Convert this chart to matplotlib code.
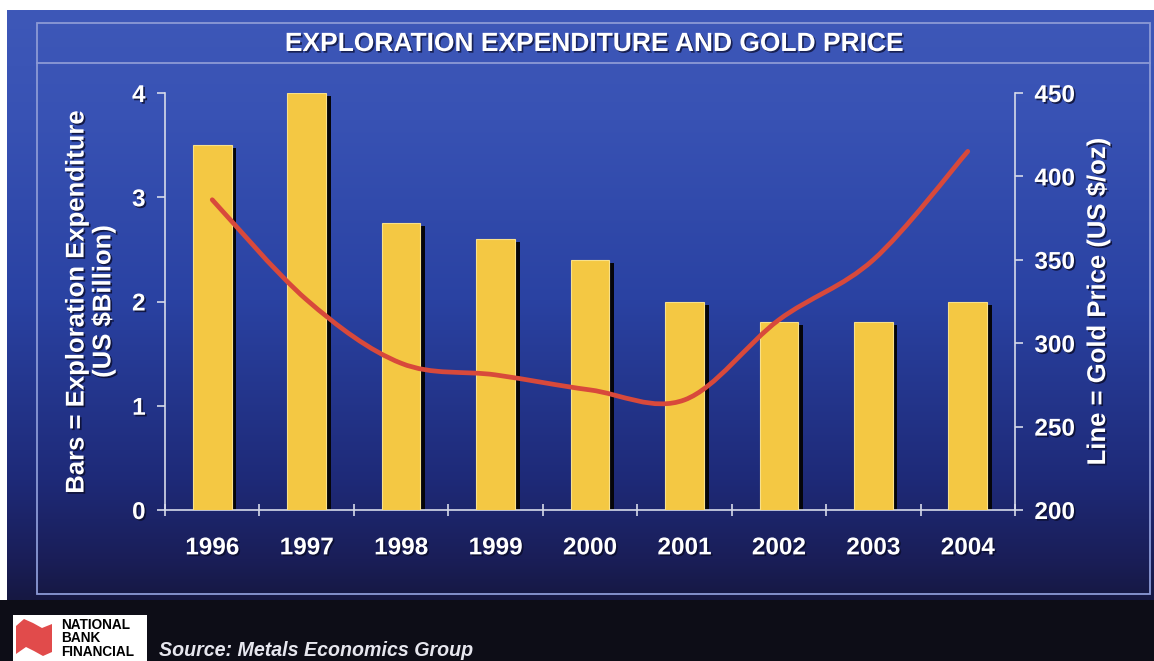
import numpy as np
import matplotlib
matplotlib.use("Agg")
import matplotlib.pyplot as plt
from matplotlib.patches import Rectangle, Polygon, PathPatch
from matplotlib.path import Path
import matplotlib.patheffects as pe

# ---------------- data ----------------
years = ["1996", "1997", "1998", "1999", "2000", "2001", "2002", "2003", "2004"]
expenditure = [3.5, 4.0, 2.75, 2.6, 2.4, 2.0, 1.8, 1.8, 2.0]          # US $Billion (bars)
gold_price = [386, 326, 288, 281, 272, 266, 314, 350, 415]            # US $/oz (line)
left_ticks = [0, 1, 2, 3, 4]
right_ticks = [200, 250, 300, 350, 400, 450]

title = "EXPLORATION EXPENDITURE AND GOLD PRICE"
left_label = "Bars = Exploration Expenditure\n(US $Billion)"
right_label = "Line = Gold Price (US $/oz)"
source = "Source: Metals Economics Group"

W, H = 1154, 661
plt.rcParams['font.family'] = ['Liberation Sans', 'DejaVu Sans']

fig = plt.figure(figsize=(W / 100, H / 100), dpi=100)
fig.patch.set_facecolor("white")

# ---------------- background (pixel coords) ----------------
bg = fig.add_axes([0, 0, 1, 1], zorder=0)
bg.set_xlim(0, W)
bg.set_ylim(H, 0)
bg.axis("off")

stops_y = np.array([10, 120, 300, 480, 560, 600])
stops_c = np.array([
    [62, 88, 184],
    [56, 82, 180],
    [42, 66, 162],
    [30, 42, 120],
    [26, 30, 88],
    [22, 24, 66],
]) / 255.0
ys = np.linspace(10, 600, 400)
grad = np.stack([np.interp(ys, stops_y, stops_c[:, k]) for k in range(3)], axis=-1)
grad = np.repeat(grad[:, None, :], 2, axis=1)
bg.imshow(grad, extent=[7, W, 600, 10], aspect="auto", interpolation="bilinear", zorder=0)

bg.add_patch(Rectangle((0, 600), W, H - 600, facecolor="#0d0d17", edgecolor="none", zorder=1))
bg.add_patch(Rectangle((37, 23), 1113, 571, facecolor="none", edgecolor="#8c9ad6", lw=1.3, zorder=2))
bg.plot([37, 1150], [63, 63], color="#8c9ad6", lw=1.3, zorder=2)

bg.text(594, 44, title, color="white", fontsize=19, fontweight="bold",
        ha="center", va="center", zorder=3,
        path_effects=[pe.withSimplePatchShadow(offset=(1.2, -1.2), shadow_rgbFace="#10143a", alpha=0.8)])

# logo
bg.add_patch(Rectangle((13, 615), 134, 50, facecolor="white", edgecolor="none", zorder=3))
flag = Polygon([(16, 626), (24, 619), (33, 623), (42, 628), (52, 624),
                (52, 652), (43, 656), (34, 651), (26, 647), (16, 654)],
               closed=True, facecolor="#e14b4b", edgecolor="none", zorder=4)
bg.add_patch(flag)
bg.text(61, 618, "NATIONAL\nBANK\nFINANCIAL", color="black", fontsize=9.8, fontweight="bold",
        ha="left", va="top", linespacing=0.95, zorder=4)

bg.text(159, 651, source, color="#e6e6ee", fontsize=14.1, fontweight="bold", style="italic",
        ha="left", va="center", zorder=3)

# ---------------- main chart ----------------
shadow = [pe.withSimplePatchShadow(offset=(1.2, -1.2), shadow_rgbFace="#0a0c2a", alpha=0.8)]
spine_c = "#d6daea"
fs = 17.5

ax = fig.add_axes([165 / W, 1 - 510 / H, 850 / W, 417 / H], zorder=2)
ax.patch.set_alpha(0)
x = np.arange(len(years))
bw = 0.41
ax.bar(x + 0.05, [v - 0.03 for v in expenditure], width=bw, color="#05050a", zorder=2)
ax.bar(x, expenditure, width=bw, color="#f4c843", edgecolor="#f8e08a", linewidth=0.8, zorder=3)
ax.set_xlim(-0.5, len(years) - 0.5)
ax.set_ylim(0, 4)
ax.set_yticks(left_ticks)
ax.set_yticklabels([str(t) for t in left_ticks])

ax.set_xticks(np.arange(len(years) + 1) - 0.5)
ax.set_xticklabels([])
ax.set_xticks(x, minor=True)
ax.set_xticklabels(years, minor=True)
ax.tick_params(axis="x", which="major", direction="inout", length=9, color=spine_c, width=1.2)
ax.tick_params(axis="x", which="minor", length=0, pad=19, labelsize=fs, labelcolor="white")
ax.tick_params(axis="y", direction="out", length=6, color=spine_c, width=1.2, pad=8,
               labelsize=fs, labelcolor="white")
for lab in ax.get_xticklabels(minor=True) + ax.get_yticklabels():
    lab.set_fontweight("bold")
    lab.set_path_effects(shadow)

for s in ["top", "right"]:
    ax.spines[s].set_visible(False)
for s in ["left", "bottom"]:
    ax.spines[s].set_color(spine_c)
    ax.spines[s].set_linewidth(1.2)

ax.set_ylabel(left_label, color="white", fontsize=18.5, fontweight="bold", labelpad=12,
              linespacing=1.15, path_effects=shadow)

ax2 = ax.twinx()
ax2.set_zorder(3)
ax2.set_ylim(200, 450)
ax2.set_yticks(right_ticks)
ax2.set_yticklabels([str(t) for t in right_ticks])
ax2.tick_params(axis="y", direction="out", length=6, color=spine_c, width=1.2, pad=8,
                labelsize=fs, labelcolor="white")
for lab in ax2.get_yticklabels():
    lab.set_fontweight("bold")
    lab.set_path_effects(shadow)
for s in ["top", "left", "bottom"]:
    ax2.spines[s].set_visible(False)
ax2.spines["right"].set_color(spine_c)
ax2.spines["right"].set_linewidth(1.2)
ax2.set_ylabel(right_label, color="white", fontsize=18.5, fontweight="bold", labelpad=8,
               path_effects=shadow)

# smooth line through the gold prices (Catmull-Rom as cubic Bezier path)
px = list(x.astype(float))
py = list(gold_price)
verts = [(px[0], py[0])]
codes = [Path.MOVETO]
n = len(px)
for i in range(n - 1):
    p0 = (px[max(i - 1, 0)], py[max(i - 1, 0)])
    p1 = (px[i], py[i])
    p2 = (px[i + 1], py[i + 1])
    p3 = (px[min(i + 2, n - 1)], py[min(i + 2, n - 1)])
    c1 = (p1[0] + (p2[0] - p0[0]) / 6, p1[1] + (p2[1] - p0[1]) / 6)
    c2 = (p2[0] - (p3[0] - p1[0]) / 6, p2[1] - (p3[1] - p1[1]) / 6)
    verts += [c1, c2, p2]
    codes += [Path.CURVE4, Path.CURVE4, Path.CURVE4]
ax2.add_patch(PathPatch(Path(verts, codes), facecolor="none", edgecolor="#d8493b",
                        lw=3.4, capstyle="round", zorder=4))

fig.savefig("out.png", dpi=100, facecolor=fig.get_facecolor())
